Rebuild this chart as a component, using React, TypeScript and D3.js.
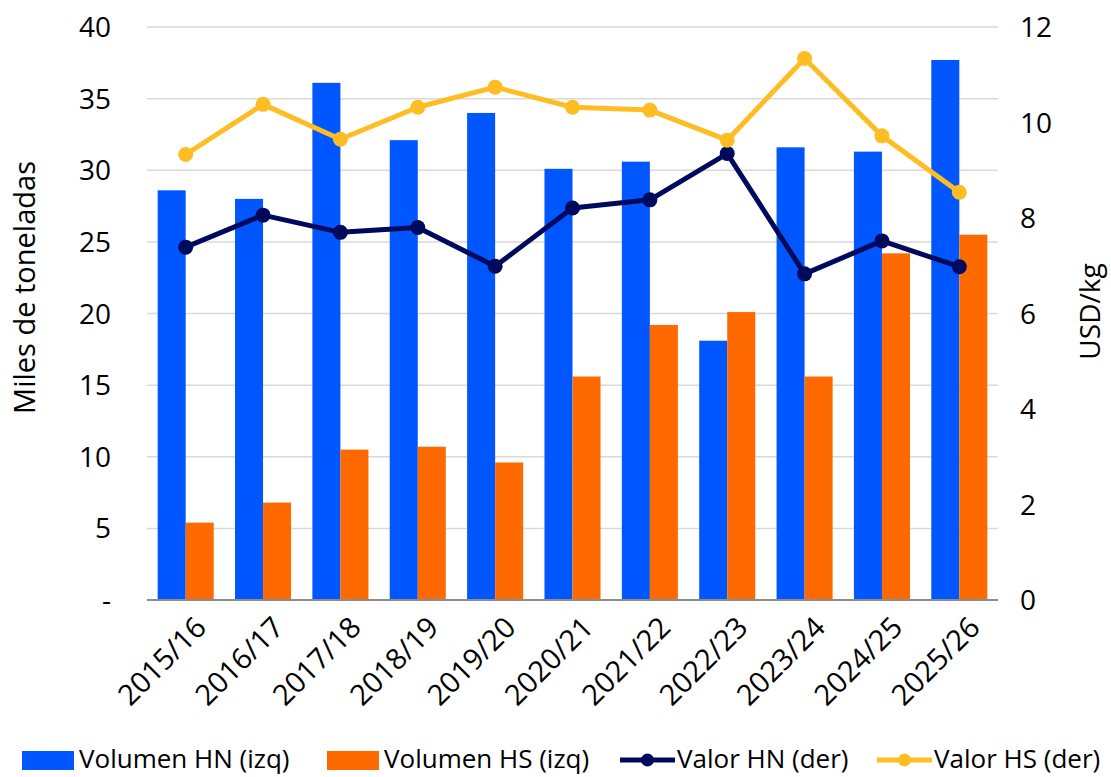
import * as d3 from "d3"

const categories = [
  "2015/16", "2016/17", "2017/18", "2018/19", "2019/20", "2020/21",
  "2021/22", "2022/23", "2023/24", "2024/25", "2025/26",
]
const volumenHN = [28.6, 28.0, 36.1, 32.1, 34.0, 30.1, 30.6, 18.1, 31.6, 31.3, 37.7]
const volumenHS = [5.4, 6.8, 10.5, 10.7, 9.6, 15.6, 19.2, 20.1, 15.6, 24.2, 25.5]
const valorHN = [7.39, 8.06, 7.7, 7.8, 6.99, 8.21, 8.38, 9.35, 6.83, 7.52, 6.98]
const valorHS = [9.33, 10.38, 9.65, 10.32, 10.74, 10.32, 10.26, 9.63, 11.34, 9.72, 8.54]
const leftTicks = [0, 5, 10, 15, 20, 25, 30, 35, 40]
const rightTicks = [0, 2, 4, 6, 8, 10, 12]

const BLUE = "#0057ff"
const ORANGE = "#ff6a00"
const NAVY = "#000a5c"
const YELLOW = "#ffbd24"
const FONT = "'Open Sans', sans-serif"

export default function App() {
  const width = 1111
  const height = 777
  const margin = { top: 27, right: 113, bottom: 177, left: 147 }
  const innerW = width - margin.left - margin.right
  const innerH = height - margin.top - margin.bottom

  const x0 = d3.scaleBand().domain(categories).range([0, innerW]).padding(0)
  const x1 = d3
    .scaleBand()
    .domain(["HN", "HS"])
    .range([0, x0.bandwidth()])
    .paddingInner(0)
    .paddingOuter(0.38)
  const yL = d3.scaleLinear().domain([0, 40]).range([innerH, 0])
  const yR = d3.scaleLinear().domain([0, 12]).range([innerH, 0])

  const cx = (c: string) => (x0(c) || 0) + x0.bandwidth() / 2
  const valueLine = d3
    .line<number>()
    .x((_, i) => cx(categories[i]))
    .y((d) => yR(d))

  // legend items
  const legend = [
    { label: "Volumen HN (izq)", color: BLUE, type: "rect", x: 22 },
    { label: "Volumen HS (izq)", color: ORANGE, type: "rect", x: 327 },
    { label: "Valor HN (der)", color: NAVY, type: "line", x: 620 },
    { label: "Valor HS (der)", color: YELLOW, type: "line", x: 877 },
  ]

  return (
    <svg
      width={width}
      height={height}
      style={{ position: "absolute", left: 0, top: 0, background: "#fff" }}
      fontFamily={FONT}
    >
      <g transform={`translate(${margin.left},${margin.top})`}>
        {/* grid lines */}
        {leftTicks
          .filter((t) => t > 0)
          .map((t) => (
            <line
              key={t}
              x1={0}
              x2={innerW}
              y1={yL(t)}
              y2={yL(t)}
              stroke="#d9d9d9"
              strokeWidth={1.5}
            />
          ))}

        {/* bars */}
        {categories.map((c, i) => (
          <g key={c} transform={`translate(${x0(c)},0)`}>
            <rect
              x={x1("HN")}
              y={yL(volumenHN[i])}
              width={x1.bandwidth()}
              height={innerH - yL(volumenHN[i])}
              fill={BLUE}
            />
            <rect
              x={x1("HS")}
              y={yL(volumenHS[i])}
              width={x1.bandwidth()}
              height={innerH - yL(volumenHS[i])}
              fill={ORANGE}
            />
          </g>
        ))}

        {/* baseline */}
        <line x1={0} x2={innerW} y1={innerH} y2={innerH} stroke="#8c8c8c" strokeWidth={2} />

        {/* lines */}
        <path d={valueLine(valorHN) || ""} fill="none" stroke={NAVY} strokeWidth={5} strokeLinejoin="round" />
        {valorHN.map((v, i) => (
          <circle key={i} cx={cx(categories[i])} cy={yR(v)} r={7.5} fill={NAVY} />
        ))}
        <path d={valueLine(valorHS) || ""} fill="none" stroke={YELLOW} strokeWidth={5} strokeLinejoin="round" />
        {valorHS.map((v, i) => (
          <circle key={i} cx={cx(categories[i])} cy={yR(v)} r={7.5} fill={YELLOW} />
        ))}

        {/* left axis labels */}
        {leftTicks.map((t) => (
          <text
            key={t}
            x={-36}
            y={yL(t)}
            dy="0.36em"
            textAnchor="end"
            fontSize={28}
            fill="#000"
          >
            {t === 0 ? "-" : t}
          </text>
        ))}

        {/* right axis labels */}
        {rightTicks.map((t) => (
          <text
            key={t}
            x={innerW + 22}
            y={yR(t)}
            dy="0.36em"
            textAnchor="start"
            fontSize={28}
            fill="#000"
          >
            {t}
          </text>
        ))}

        {/* x labels */}
        {categories.map((c) => (
          <text
            key={c}
            transform={`translate(${cx(c) + 8},${innerH + 15}) rotate(-45)`}
            textAnchor="end"
            dy="0.7em"
            fontSize={29}
            fill="#000"
          >
            {c}
          </text>
        ))}

        {/* axis titles */}
        <text
          transform={`translate(${-112},${innerH / 2 - 26}) rotate(-90)`}
          textAnchor="middle"
          fontSize={29}
          fill="#000"
        >
          Miles de toneladas
        </text>
        <text
          transform={`translate(${innerW + 102},${innerH / 2 - 2}) rotate(-90)`}
          textAnchor="middle"
          fontSize={28}
          fill="#000"
        >
          USD/kg
        </text>
      </g>

      {/* legend */}
      <g transform="translate(0,760)">
        {legend.map((l) => (
          <g key={l.label} transform={`translate(${l.x},0)`}>
            {l.type === "rect" ? (
              <rect x={0} y={-9} width={52} height={19} fill={l.color} />
            ) : (
              <g>
                <line x1={0} x2={55} y1={0} y2={0} stroke={l.color} strokeWidth={5} />
                <circle cx={27.5} cy={0} r={6.5} fill={l.color} />
              </g>
            )}
            <text x={57} y={8} fontSize={26} fill="#000">
              {l.label}
            </text>
          </g>
        ))}
      </g>
    </svg>
  )
}
